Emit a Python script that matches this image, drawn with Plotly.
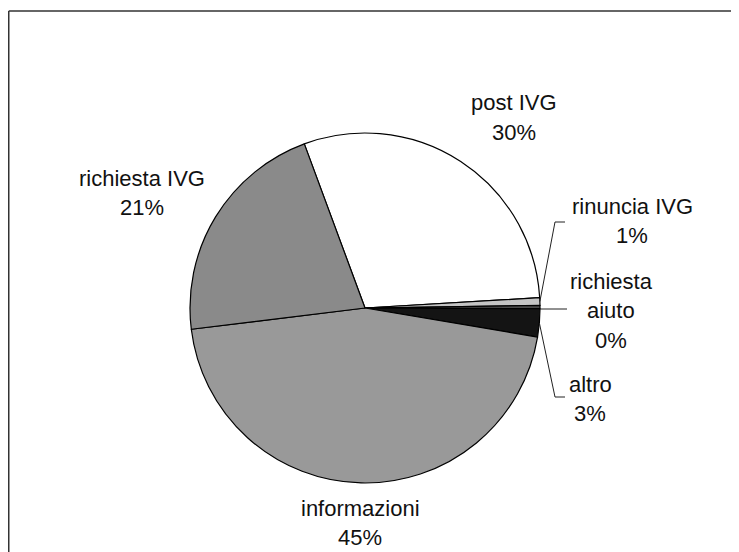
import math
import plotly.graph_objects as go

# ---- data ----
categories = ["post IVG", "rinuncia IVG", "richiesta aiuto", "altro", "informazioni", "richiesta IVG"]
label_lines = [["post IVG"], ["rinuncia IVG"], ["richiesta", "aiuto"], ["altro"], ["informazioni"], ["richiesta IVG"]]
values = [29.7, 0.7, 0.3, 2.6, 45.4, 21.3]
colors = ["#ffffff", "#c4c4c4", "#4a4a4a", "#141414", "#999999", "#8a8a8a"]

# ---- layout geometry (pixels in the 739x552 window) ----
OFF = 8                      # default page margin of the html body
W, H = 739 - OFF, 552 - OFF  # figure size so that it fits the window
CX, CY, R = 365, 308, 175
ROT = -20.3
FONT = dict(family="Liberation Sans, Arial, sans-serif", size=22, color="#111111")
LINE_H = 29.5

# label block centers (x, y of first line) in window pixels
label_pos = [(514, 103), (632, 206), (611, 281), (590, 384), (360, 508), (142, 178)]

def px(x):
    return (x - OFF) / W

def py(y):
    return 1 - (y - OFF) / H

fig = go.Figure(go.Pie(
    labels=categories,
    values=values,
    sort=False,
    direction="clockwise",
    rotation=ROT,
    textinfo="none",
    textposition="none",
    hoverinfo="label+percent",
    marker=dict(colors=colors, line=dict(color="#000000", width=1.2)),
    domain=dict(x=[px(CX - R), px(CX + R)], y=[py(CY + R), py(CY - R)]),
    showlegend=False,
))

total = sum(values)
annotations = []
for name_lines, v, (lx, ly) in zip(label_lines, values, label_pos):
    lines = name_lines + [f"{100 * v / total:.0f}%"]
    for i, t in enumerate(lines):
        annotations.append(dict(
            x=px(lx), y=py(ly + i * LINE_H), xref="paper", yref="paper",
            text=t, showarrow=False, font=FONT, xanchor="center", yanchor="middle",
        ))

# leader lines for the small slices, from slice mid-angle on the rim
shapes = []
cum = 0.0
mids = []
for v in values:
    mids.append(ROT + 360 * (cum + v / 2) / total)
    cum += v

def rim(angle_deg):
    a = math.radians(angle_deg)
    return CX + R * math.sin(a), CY - R * math.cos(a)

leader_specs = {1: (555, 222, 565), 2: (567, 309, None), 3: (555, 397, 565)}
for idx, (ex, ey, hx) in leader_specs.items():
    sx, sy = rim(mids[idx])
    if idx == 2:
        sy = ey
    pts = [(sx, sy), (ex, ey)]
    if hx is not None:
        pts.append((hx, ey))
    for (x0, y0), (x1, y1) in zip(pts[:-1], pts[1:]):
        shapes.append(dict(type="line", xref="paper", yref="paper",
                           x0=px(x0), y0=py(y0), x1=px(x1), y1=py(y1),
                           line=dict(color="#222222", width=1)))

# chart frame (left and top edges visible)
shapes.append(dict(type="line", xref="paper", yref="paper", x0=px(8.75), y0=py(11), x1=px(733), y1=py(11),
                   line=dict(color="#333333", width=1.5)))
shapes.append(dict(type="line", xref="paper", yref="paper", x0=px(8.75), y0=py(11), x1=px(8.75), y1=py(552),
                   line=dict(color="#333333", width=1.5)))

fig.update_layout(
    width=W, height=H,
    margin=dict(l=0, r=0, t=0, b=0),
    paper_bgcolor="#ffffff",
    plot_bgcolor="#ffffff",
    annotations=annotations,
    shapes=shapes,
)

fig.write_html("out.html")
